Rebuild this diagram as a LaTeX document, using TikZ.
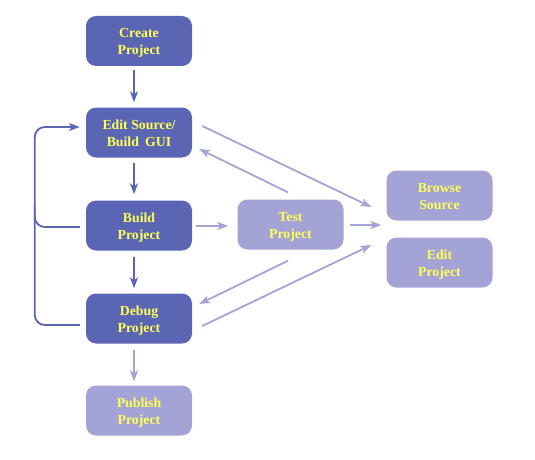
\documentclass[tikz,border=0pt]{standalone}
\usepackage{fontspec}
\setmainfont{Liberation Serif}
\usetikzlibrary{arrows.meta,calc}
\definecolor{darkb}{RGB}{90,102,180}
\definecolor{lightb}{RGB}{163,163,214}
\definecolor{txty}{RGB}{255,255,85}
\newcommand{\twolines}[2]{\begin{tabular}{@{}c@{}}\rule{0pt}{15.9pt}#1\\#2\end{tabular}}
\tikzset{
  boxbase/.style={rounded corners=10pt, minimum width=106pt, minimum height=50pt,
    text=txty, font=\fontsize{13.8}{17}\selectfont\bfseries, inner sep=0pt},
  darkbox/.style={boxbase, fill=darkb},
  lightbox/.style={boxbase, fill=lightb},
  darr/.style={draw=darkb, line width=1.8pt, -{Stealth[length=11pt,width=8pt,inset=3pt]}},
  larr/.style={draw=lightb, line width=1.8pt, -{Stealth[length=11pt,width=8pt,inset=3pt]}},
  dline/.style={draw=darkb, line width=1.8pt},
}
\begin{document}
\begin{tikzpicture}[x=1pt,y=-1pt]
\useasboundingbox (0,0) rectangle (535,460);
\node[darkbox] (c) at (139,41) {\twolines{Create}{Project}};
\node[darkbox] (e) at (139,132.5) {\twolines{Edit Source/}{Build\hspace{0.45em}GUI}};
\node[darkbox] (b) at (139,225.5) {\twolines{Build}{Project}};
\node[darkbox] (d) at (139,318.5) {\twolines{Debug}{Project}};
\node[lightbox] (p) at (139,410.5) {\twolines{Publish}{Project}};
\node[lightbox] (t) at (290.5,224.5) {\twolines{Test}{Project}};
\node[lightbox] (bs) at (439.5,195.5) {\twolines{Browse}{Source}};
\node[lightbox] (ep) at (439.5,262.5) {\twolines{Edit}{Project}};
\coordinate (mid) at ($(bs.west)!0.5!(ep.west)$);
% vertical arrows
\draw[darr] ([shift={(-5,4)}]c.south) -- ([shift={(-5,-5)}]e.north);
\draw[darr] ([shift={(-5,5)}]e.south) -- ([shift={(-5,-6)}]b.north);
\draw[darr] ([shift={(-5,6)}]b.south) -- ([shift={(-5,-5)}]d.north);
\draw[larr] ([shift={(-5,6)}]d.south) -- ([shift={(-5,-4)}]p.north);
% loop
\draw[darr, rounded corners=10pt] ([shift={(-6,6.5)}]d.west) -- ++(-45,0) |- ([shift={(-6,-5.5)}]e.west);
\draw[dline, rounded corners=10pt] ([shift={(-6,1.5)}]b.west) -| ++(-45,-20);
% light arrows
\draw[larr] ([shift={(4,0.5)}]b.east) -- ([shift={(-9,1.5)}]t.west);
\draw[larr] ([shift={(6,0.5)}]t.east) -- ([shift={(-5,-4)}]mid);
\draw[larr] ([shift={(10,-6.5)}]e.east) -- ([shift={(-15,11.5)}]bs.west);
\draw[larr] ([shift={(-2.5,-7)}]t.north) -- ([shift={(7,16.5)}]e.east);
\draw[larr] ([shift={(-2.5,11)}]t.south) -- ([shift={(7,-14.5)}]d.east);
\draw[larr] ([shift={(10,7.5)}]d.east) -- ([shift={(-15,-17.5)}]ep.west);
\end{tikzpicture}
\end{document}
